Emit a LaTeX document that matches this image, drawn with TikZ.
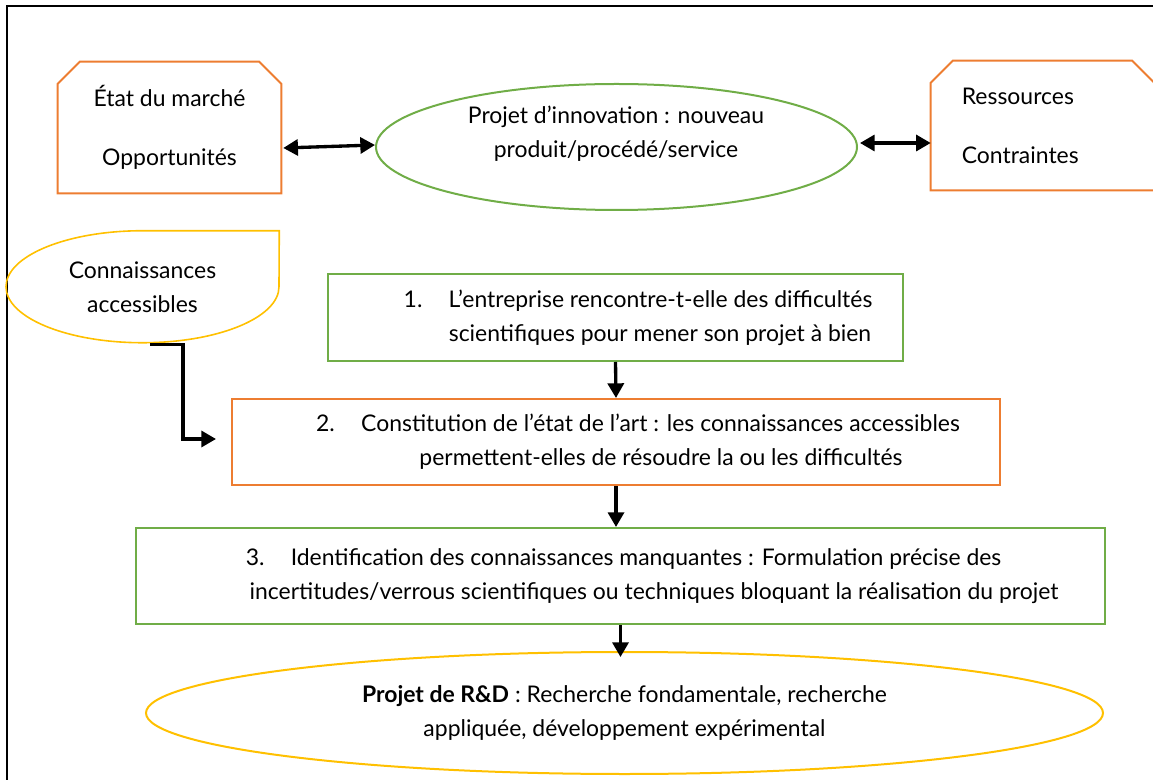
\documentclass[tikz,border=0pt]{standalone}
\usepackage{fontspec}
\setmainfont{Lato}
\usetikzlibrary{arrows.meta,shapes.geometric,calc}
\definecolor{borange}{HTML}{ED7D31}
\definecolor{bgreen}{HTML}{70AD47}
\definecolor{byellow}{HTML}{FFC000}
\begin{document}
\begin{tikzpicture}[x=0.75pt,y=-0.75pt,
  txt/.style={font=\fontsize{17.2}{25.5}\selectfont, align=center, inner sep=0pt},
  plain/.style={txt, draw=none},
  orbox/.style={txt, draw=borange, line width=1.5pt},
  grbox/.style={txt, draw=bgreen, line width=1.5pt},
  orline/.style={draw=borange, line width=1.5pt},
  arr/.style={line width=2.5pt, -{Triangle[length=11pt,width=12pt]}},
  dbl/.style={line width=2.5pt, {Triangle[length=11pt,width=12pt]}-{Triangle[length=11pt,width=12pt]}}]
\useasboundingbox (0,0) rectangle (1153,780);
% frame
\draw[line width=1.5pt] (7,781) -- (7,6) -- (1154,6);

% top left chamfered box
\node[plain, minimum width=167.25pt, minimum height=98.25pt] (etat) at (169.5,127.5) {État du marché\\[18.75pt]Opportunités};
\draw[orline] (etat.south west) -- ($(etat.north west)+(0,22)$) -- ($(etat.north west)+(22,0)$) -- ($(etat.north east)+(-22,0)$) -- ($(etat.north east)+(0,22)$) -- (etat.south east) -- cycle;

% top right chamfered box
\node[plain, minimum width=167.25pt, minimum height=96.75pt, text width=121pt, align=left] (res) at (1042.5,125.5) {Ressources\\[18.75pt]Contraintes};
\draw[orline] (res.south west) -- ($(res.north west)+(0,22)$) -- ($(res.north west)+(22,0)$) -- ($(res.north east)+(-22,0)$) -- ($(res.north east)+(0,22)$) -- (res.south east) -- cycle;

% innovation ellipse
\node[ellipse, draw=bgreen, line width=1.5pt, minimum width=360.75pt, minimum height=94.5pt, inner sep=0pt] (innov) at (616.5,147) {};
\node[txt] (innovtxt) at (616,134) {Projet d’innovation : nouveau\\produit/procédé/service};

% double arrows
\draw[dbl] ($(etat.east)+(2,20.5)$) -- ($(innov.west)+(0,-2)$);
\draw[dbl] ($(innov.east)+(2,-4)$) -- ($(res.west)+(0,17.5)$);

% connaissances accessibles (teardrop)
\node[plain, minimum width=204.75pt, minimum height=84pt] (know) at (142.5,287) {Connaissances\\accessibles};
\draw[draw=byellow, line width=1.2pt] (know.north east) -- (know.north)
  arc[start angle=90, end angle=270, x radius=102.375pt, y radius=42pt]
  arc[start angle=270, end angle=360, x radius=102.375pt, y radius=42pt] -- cycle;

% boxes
\node[grbox, minimum width=431.25pt, minimum height=65.25pt] (box1) at (615.5,317.5)
  {\hspace*{33.75pt}\makebox[33.75pt][l]{1.}L’entreprise rencontre-t-elle des difficultés\\
   \hspace*{66.75pt}scientifiques pour mener son projet à bien};
\node[orbox, minimum width=576pt, minimum height=64.5pt] (box2) at (616,442)
  {\hspace*{33pt}\makebox[33.75pt][l]{2.}Constitution de l’état de l’art : les connaissances accessibles\\
   \hspace*{67.5pt}permettent-elles de résoudre la ou les difficultés};
\node[grbox, minimum width=726.75pt, minimum height=72pt] (box3) at (620.5,576)
  {\hspace*{4.5pt}\makebox[33.75pt][l]{3.}Identification des connaissances manquantes : Formulation précise des\\
   \hspace*{50.25pt}incertitudes/verrous scientifiques ou techniques bloquant la réalisation du projet};

% R&D ellipse
\node[txt, ellipse, draw=byellow, line width=1.5pt, minimum width=717.75pt, minimum height=91.5pt] (rd) at (624.5,713)
  {\textbf{Projet de R\&D} : Recherche fondamentale, recherche\\appliquée, développement expérimental};

% connectors
\coordinate (kstart) at ($(know.south)+(7.5,1)$);
\coordinate (kend) at ($(box2.west)+(-15,-3)$);
\draw[arr] (kstart) -- ++(33,0) |- (kend);
\draw[arr] (box1.south) -- (box2.north);
\draw[arr] (box2.south) -- (box2.south |- box3.north);
\draw[arr] (box3.south) -- ($(box3.south |- rd.north)+(0,6)$);
\end{tikzpicture}
\end{document}
